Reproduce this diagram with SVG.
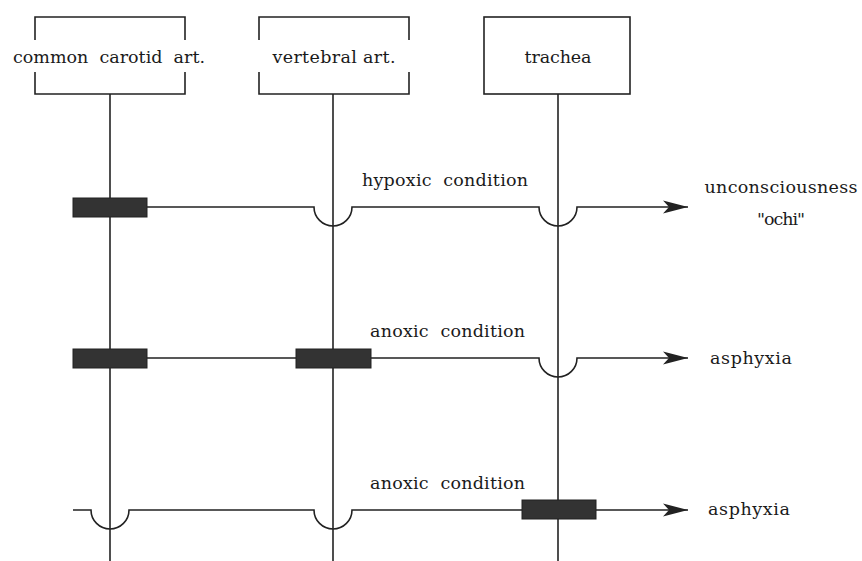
<svg xmlns="http://www.w3.org/2000/svg" width="862" height="561" viewBox="0 0 862 561">
<style>
.t{font-family:"DejaVu Serif","Liberation Serif",serif;font-size:17.5px;fill:#1a1a1a;white-space:pre}
.ln{fill:none;stroke:#222;stroke-width:1.6}
.blk{fill:#333;stroke:#222;stroke-width:1}
</style>
<defs>
<marker id="ah" markerUnits="userSpaceOnUse" markerWidth="28" markerHeight="16" refX="25" refY="8" orient="auto">
<path d="M0,1.5 L25,8 L0,14.5 L6,8 z" fill="#222"/>
</marker>
</defs>
<rect width="862" height="561" fill="#fff"/>
<g id="connectors">
<line class="ln" x1="110" y1="94" x2="110" y2="561"/>
<line class="ln" x1="333" y1="94" x2="333" y2="561"/>
<line class="ln" x1="558" y1="94" x2="558" y2="561"/>
<path class="ln" d="M147,207 L314,207 A19,19 0 0 0 352,207 L539,207 A19,19 0 0 0 577,207 L688,207" marker-end="url(#ah)"/>
<path class="ln" d="M147,358 L296,358 M371,358 L539,358 A19,19 0 0 0 577,358 L688,358" marker-end="url(#ah)"/>
<path class="ln" d="M73,510 L91,510 A19,19 0 0 0 129,510 L314,510 A19,19 0 0 0 352,510 L522,510 M596,510 L688,510" marker-end="url(#ah)"/>
</g>
<g id="node-carotid">
<path class="ln" d="M35,40 L35,17 L185,17 L185,40 M35,72 L35,94 L185,94 L185,72"/>
<text class="t" x="109" y="63" text-anchor="middle" textLength="192">common  carotid  art.</text>
</g>
<g id="node-vertebral">
<path class="ln" d="M259,40 L259,17 L409,17 L409,40 M259,72 L259,94 L409,94 L409,72"/>
<text class="t" x="334" y="63" text-anchor="middle" textLength="123">vertebral art.</text>
</g>
<g id="node-trachea">
<rect class="ln" x="484" y="17" width="146" height="77"/>
<text class="t" x="558" y="63" text-anchor="middle" textLength="67">trachea</text>
</g>
<g id="occlusions">
<rect class="blk" x="73" y="198" width="74" height="19"/>
<rect class="blk" x="73" y="349" width="74" height="19"/>
<rect class="blk" x="296" y="349" width="75" height="19"/>
<rect class="blk" x="522" y="500" width="74" height="19"/>
</g>
<g id="labels">
<text class="t" x="362" y="186" textLength="166">hypoxic  condition</text>
<text class="t" x="370" y="337" textLength="155">anoxic  condition</text>
<text class="t" x="370" y="489" textLength="155">anoxic  condition</text>
</g>
<g id="node-unconsciousness">
<text class="t" x="781" y="193" text-anchor="middle" textLength="153">unconsciousness</text>
<text class="t" x="781" y="225" text-anchor="middle" textLength="48">"ochi"</text>
</g>
<g id="node-asphyxia1">
<text class="t" x="710" y="364" textLength="82">asphyxia</text>
</g>
<g id="node-asphyxia2">
<text class="t" x="708" y="515" textLength="82">asphyxia</text>
</g>
</svg>
